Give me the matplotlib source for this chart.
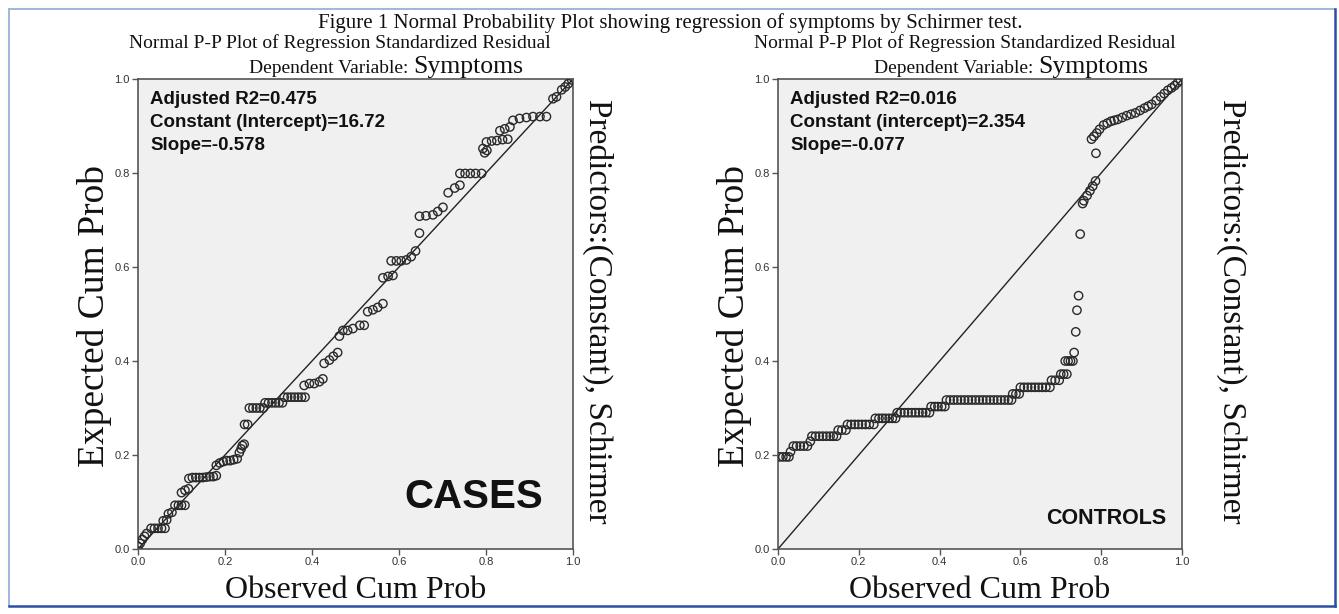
import matplotlib

matplotlib.use("Agg")
import matplotlib.pyplot as plt  # noqa: E402
from matplotlib.lines import Line2D  # noqa: E402

W, H = 1339, 614
SERIF = "Liberation Serif"
SANS = "Liberation Sans"

# CASES: observed vs expected cumulative probability
cases_x = [
    0.000, 0.005, 0.010, 0.015, 0.020,
    0.030, 0.038, 0.046, 0.054, 0.062,
    0.058, 0.066, 0.070, 0.078,
    0.085, 0.093, 0.100, 0.108,
    0.100, 0.108, 0.116,
    0.117, 0.125, 0.133, 0.141, 0.149, 0.157, 0.165, 0.173, 0.180,
    0.180, 0.188, 0.196, 0.204, 0.212, 0.220, 0.228,
    0.233, 0.237, 0.240, 0.244,
    0.245, 0.252,
    0.256, 0.264, 0.272, 0.280, 0.288,
    0.292, 0.300, 0.308, 0.316, 0.324, 0.332,
    0.336, 0.344, 0.352, 0.360, 0.368, 0.376, 0.384,
    0.382, 0.394, 0.405, 0.417, 0.425,
    0.428, 0.440, 0.449, 0.459,
    0.463, 0.471, 0.482, 0.494, 0.510, 0.520,
    0.528, 0.540, 0.551, 0.563,
    0.563, 0.575, 0.586,
    0.582, 0.594, 0.605, 0.617, 0.628, 0.638,
    0.647,
    0.647, 0.662, 0.678, 0.689, 0.701,
    0.713, 0.728, 0.740,
    0.740, 0.752, 0.764, 0.776, 0.790,
    0.797, 0.802,
    0.793, 0.801, 0.813, 0.825, 0.838, 0.850,
    0.832, 0.843, 0.855,
    0.862, 0.877, 0.893, 0.908, 0.924, 0.939,
    0.954, 0.962, 0.974, 0.982, 0.989, 0.997,
]
cases_y = [
    0.005, 0.012, 0.020, 0.027, 0.033,
    0.044, 0.044, 0.044, 0.044, 0.044,
    0.060, 0.062, 0.075, 0.078,
    0.093, 0.093, 0.093, 0.093,
    0.120, 0.125, 0.128,
    0.150, 0.152, 0.152, 0.152, 0.152, 0.153, 0.154, 0.154, 0.156,
    0.178, 0.183, 0.186, 0.188, 0.188, 0.190, 0.192,
    0.205, 0.213, 0.220, 0.223,
    0.265, 0.265,
    0.300, 0.300, 0.300, 0.300, 0.300,
    0.311, 0.311, 0.311, 0.311, 0.311, 0.311,
    0.323, 0.323, 0.323, 0.323, 0.323, 0.323, 0.323,
    0.348, 0.352, 0.352, 0.356, 0.362,
    0.395, 0.402, 0.410, 0.418,
    0.453, 0.465, 0.465, 0.469, 0.476, 0.476,
    0.505, 0.509, 0.514, 0.522,
    0.577, 0.580, 0.582,
    0.613, 0.613, 0.613, 0.615, 0.622, 0.634,
    0.672,
    0.708, 0.709, 0.711, 0.718, 0.727,
    0.758, 0.768, 0.774,
    0.799, 0.799, 0.799, 0.799, 0.799,
    0.843, 0.848,
    0.852, 0.866, 0.868, 0.869, 0.871, 0.872,
    0.890, 0.894, 0.898,
    0.912, 0.916, 0.918, 0.920, 0.920, 0.920,
    0.958, 0.962, 0.977, 0.983, 0.990, 0.998,
]

# CONTROLS: flat runs of tied values, then the steep rise near 0.74
controls_x = [
    0.004, 0.012, 0.020, 0.027,
    0.031,
    0.038, 0.046, 0.055, 0.064, 0.073,
    0.080,
    0.084, 0.093, 0.102, 0.111, 0.120, 0.129, 0.137, 0.145,
    0.149, 0.158, 0.168,
    0.172, 0.181, 0.190, 0.199, 0.208, 0.217, 0.226, 0.237,
    0.241, 0.250, 0.258, 0.266, 0.275, 0.283, 0.291,
    0.295, 0.304, 0.313, 0.322, 0.331, 0.340, 0.349, 0.358, 0.366, 0.375,
    0.379, 0.388, 0.396, 0.405, 0.413,
    0.417, 0.426, 0.435, 0.444, 0.453, 0.462, 0.471, 0.480, 0.489, 0.498,
    0.507, 0.516, 0.525, 0.534, 0.543, 0.552, 0.561, 0.570, 0.578,
    0.581, 0.589, 0.597,
    0.600, 0.609, 0.618, 0.627, 0.636, 0.645, 0.654, 0.663, 0.673,
    0.677, 0.686, 0.696,
    0.700, 0.707, 0.715,
    0.711, 0.718, 0.724, 0.730,
    0.733, 0.737, 0.740, 0.744, 0.748,
    0.754, 0.757, 0.765, 0.772, 0.779, 0.786,
    0.787,
    0.776, 0.782, 0.789, 0.796, 0.806, 0.815, 0.824, 0.832, 0.841, 0.852,
    0.863, 0.874, 0.885, 0.896, 0.907, 0.916, 0.925, 0.936, 0.947, 0.956,
    0.965, 0.974, 0.982, 0.989, 0.996,
]
controls_y = [
    0.196, 0.196, 0.196, 0.196,
    0.207,
    0.219, 0.219, 0.219, 0.219, 0.219,
    0.229,
    0.240, 0.240, 0.240, 0.240, 0.240, 0.240, 0.240, 0.240,
    0.253, 0.253, 0.253,
    0.265, 0.265, 0.265, 0.265, 0.265, 0.265, 0.265, 0.265,
    0.278, 0.278, 0.278, 0.278, 0.278, 0.278, 0.278,
    0.290, 0.290, 0.290, 0.290, 0.290, 0.290, 0.290, 0.290, 0.290, 0.290,
    0.303, 0.303, 0.303, 0.303, 0.303,
    0.317, 0.317, 0.317, 0.317, 0.317, 0.317, 0.317, 0.317, 0.317, 0.317,
    0.317, 0.317, 0.317, 0.317, 0.317, 0.317, 0.317, 0.317, 0.317,
    0.330, 0.330, 0.330,
    0.344, 0.344, 0.344, 0.344, 0.344, 0.344, 0.344, 0.344, 0.344,
    0.359, 0.359, 0.359,
    0.372, 0.372, 0.372,
    0.400, 0.400, 0.400, 0.400,
    0.418, 0.462, 0.508, 0.539, 0.670,
    0.735, 0.741, 0.752, 0.762, 0.772, 0.783,
    0.842,
    0.872, 0.878, 0.885, 0.893, 0.902, 0.906, 0.910, 0.912, 0.914, 0.918,
    0.922, 0.925, 0.928, 0.933, 0.938, 0.942, 0.946, 0.954, 0.962, 0.969,
    0.976, 0.981, 0.986, 0.992, 0.997,
]

ticks = [0.0, 0.2, 0.4, 0.6, 0.8, 1.0]
tick_labels = ["0.0", "0.2", "0.4", "0.6", "0.8", "1.0"]

panels = [
    {
        "x": cases_x, "y": cases_y, "box": (138, 79, 435, 470), "title_x": 340,
        "notes": ["Adjusted R2=0.475", "Constant (Intercept)=16.72", "Slope=-0.578"],
        "group": "CASES", "group_size": 29, "group_xy": (474, 497), "side_x": 598,
    },
    {
        "x": controls_x, "y": controls_y, "box": (778, 79, 404, 470), "title_x": 965,
        "notes": ["Adjusted R2=0.016", "Constant (intercept)=2.354", "Slope=-0.077"],
        "group": "CONTROLS", "group_size": 15.5, "group_xy": (1106, 518), "side_x": 1232,
    },
]


def fx(px):
    return px / W


def fy(py):
    return 1 - py / H


fig = plt.figure(figsize=(W / 100, H / 100), dpi=100)
fig.patch.set_facecolor("white")

# page frame
fig.add_artist(Line2D([fx(9), fx(1335)], [fy(9), fy(9)], color="#9fb6dc", lw=1.4))
fig.add_artist(Line2D([fx(9), fx(9)], [fy(9), fy(606)], color="#9fb6dc", lw=1.4))
fig.add_artist(Line2D([fx(1335), fx(1335)], [fy(9), fy(606)], color="#2d4fa2", lw=1.8))
fig.add_artist(Line2D([fx(9), fx(1335)], [fy(606), fy(606)], color="#2d4fa2", lw=1.8))

fig.text(fx(670), fy(23), "Figure 1 Normal Probability Plot showing regression of symptoms by Schirmer test.",
         family=SERIF, fontsize=15, ha="center", va="center", color="#111")

for p in panels:
    left, top, w, h = p["box"]
    ax = fig.add_axes([fx(left), fy(top + h), w / W, h / H])
    ax.set_facecolor("#f0f0f0")
    ax.set_xlim(0, 1)
    ax.set_ylim(0, 1)
    ax.plot([0, 1], [0, 1], color="#222", lw=1.0, zorder=2)
    ax.scatter(p["x"], p["y"], s=36, facecolors="none", edgecolors="#2a2a2a", linewidths=1.0, zorder=3)
    ax.set_xticks(ticks, tick_labels)
    ax.set_yticks(ticks, tick_labels)
    ax.tick_params(direction="out", length=4, width=1, color="#555", labelsize=8, labelcolor="#333", pad=2)
    for lab in ax.get_xticklabels() + ax.get_yticklabels():
        lab.set_family(SANS)
    for sp in ax.spines.values():
        sp.set_color("#555")
        sp.set_linewidth(1.2)

    for i, note in enumerate(p["notes"]):
        ax.text(12 / w, 1 - (21 + 22.5 * i) / h, note, transform=ax.transAxes, family=SANS,
                weight="bold", fontsize=13.5, ha="left", va="center", color="#111")
    gx, gy = p["group_xy"]
    fig.text(fx(gx), fy(gy), p["group"], family=SANS, weight="bold", fontsize=p["group_size"],
             ha="center", va="center", color="#111")

    cx = left + w / 2
    tx = p["title_x"]
    fig.text(fx(tx), fy(43), "Normal P-P Plot of Regression Standardized Residual",
             family=SERIF, fontsize=14, ha="center", va="center", color="#111")
    split = tx + 73
    fig.text(fx(split), fy(73), "Dependent Variable: ", family=SERIF, fontsize=14,
             ha="right", va="baseline", color="#111")
    fig.text(fx(split), fy(73), "Symptoms", family=SERIF, fontsize=18.5,
             ha="left", va="baseline", color="#111")
    fig.text(fx(cx), fy(590), "Observed Cum Prob", family=SERIF, fontsize=23,
             ha="center", va="center", color="#111")
    fig.text(fx(left - 43), fy(top + h / 2 + 2), "Expected Cum Prob", family=SERIF, fontsize=27,
             rotation=90, ha="center", va="center", color="#111")
    fig.text(fx(p["side_x"]), fy(311), "Predictors:(Constant), Schirmer", family=SERIF,
             fontsize=24, rotation=270, ha="center", va="center", color="#111")

fig.savefig("out.png", dpi=100)
